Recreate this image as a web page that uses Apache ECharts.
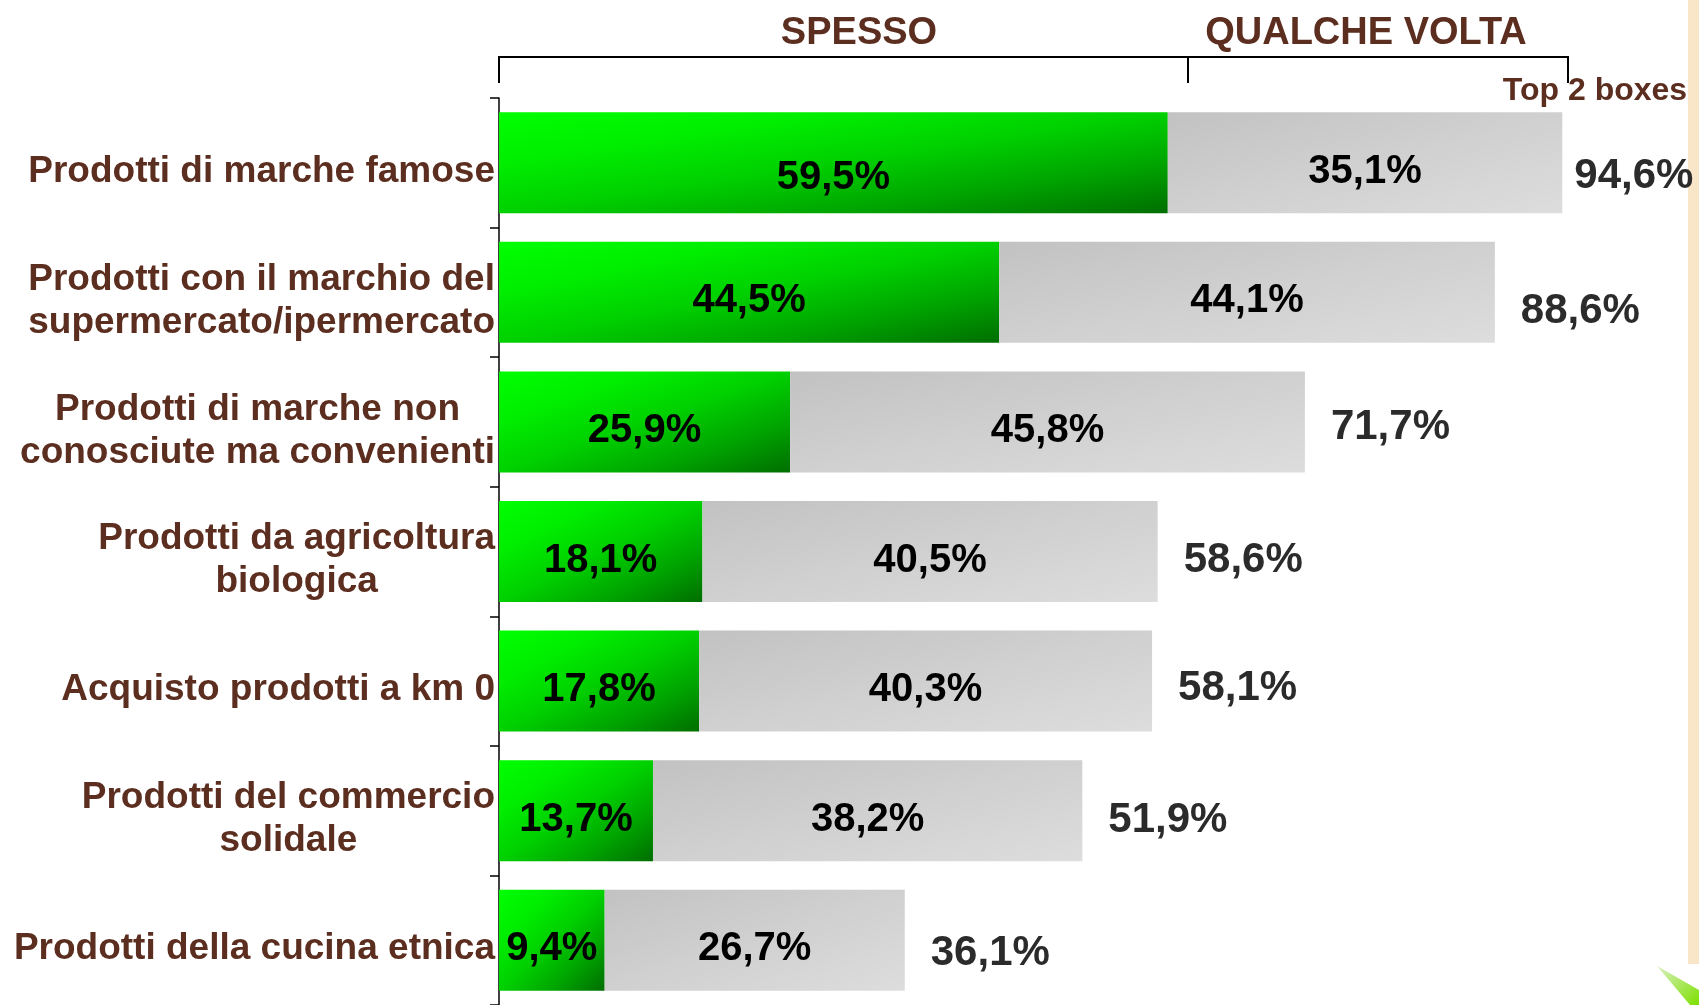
<!DOCTYPE html>
<html>
<head>
<meta charset="utf-8">
<script src="https://cdn.jsdelivr.net/npm/echarts@6.0.0/dist/echarts.min.js"></script>
<style>
  html, body { margin: 0; padding: 0; background: #ffffff; }
  #main { width: 1699px; height: 1005px; }
</style>
</head>
<body>
<div id="main"></div>
<script>
// categorie (dall'alto in basso)
const categories = [
  'Prodotti di marche famose',
  'Prodotti con il marchio del\nsupermercato/ipermercato',
  'Prodotti di marche non\nconosciute ma convenienti',
  'Prodotti da agricoltura\nbiologica',
  'Acquisto prodotti a km 0',
  'Prodotti del commercio\nsolidale',
  'Prodotti della cucina etnica'
];
const spesso = [59.5, 44.5, 25.9, 18.1, 17.8, 13.7, 9.4];
const qualcheVolta = [35.1, 44.1, 45.8, 40.5, 40.3, 38.2, 26.7];
const top2 = [94.6, 88.6, 71.7, 58.6, 58.1, 51.9, 36.1];

const brown = '#5B2E1F';
const font = '"Liberation Sans", Arial, sans-serif';
const barH = 101;

const greenStops = [
  { offset: 0, color: '#00FF00' },
  { offset: 0.25, color: '#00EE00' },
  { offset: 0.5, color: '#00D000' },
  { offset: 0.75, color: '#00A400' },
  { offset: 1, color: '#006E00' }
];
const greyStops = [
  { offset: 0, color: '#C2C2C2' },
  { offset: 0.5, color: '#D0D0D0' },
  { offset: 1, color: '#DDDDDD' }
];

// 59.5 -> "59,5%"
const pct = v => v.toFixed(1).replace('.', ',') + '%';

// gradiente diagonale "da angolo a angolo" (isolinee parallele all'antidiagonale)
function diagGrad(w, h, stops) {
  const d = w * w + h * h;
  return new echarts.graphic.LinearGradient(0, 0, 2 * h * h / d, 2 * w * w / d, stops);
}

// spostamenti verticali delle etichette come nell'originale
const topLabelDy = [14, 19, 5, 9, 7, 10, 13];

const chart = echarts.init(document.getElementById('main'));

const option = {
  backgroundColor: '#ffffff',
  animation: false,
  textStyle: { fontFamily: font },
  grid: {
    left: 499,
    width: 1124,
    top: 98,
    height: 910,
    containLabel: false
  },
  xAxis: {
    type: 'value',
    min: 0,
    max: 100,
    show: false
  },
  yAxis: {
    type: 'category',
    inverse: true,
    data: categories,
    axisLine: { show: true, lineStyle: { color: '#000', width: 1.5 } },
    axisTick: { show: true, length: 9, lineStyle: { color: '#000', width: 1.5 } },
    axisLabel: {
      margin: 4,
      align: 'right',
      padding: [18, 0, 0, 0],
      // ogni riga centrata nel blocco, blocco allineato a destra
      formatter: function (value) {
        return value.split('\n').map(l => '{c|' + l + '}').join('\n');
      },
      rich: {
        c: {
          align: 'center',
          fontFamily: font,
          fontSize: 37,
          fontWeight: 'bold',
          color: brown,
          lineHeight: 43
        }
      }
    }
  },
  series: [
    {
      name: 'SPESSO',
      type: 'bar',
      stack: 'tot',
      barWidth: barH,
      barGap: '-100%',
      data: spesso,
      itemStyle: { color: '#00C000' },
      label: {
        show: true,
        position: 'inside',
        offset: [0, 9],
        formatter: p => pct(p.value),
        fontFamily: font,
        fontSize: 40,
        fontWeight: 'bold',
        color: '#000'
      }
    },
    {
      name: 'QUALCHE VOLTA',
      type: 'bar',
      stack: 'tot',
      barWidth: barH,
      data: qualcheVolta,
      itemStyle: { color: '#D0D0D0' },
      label: {
        show: true,
        position: 'inside',
        offset: [0, 9],
        formatter: p => pct(p.value),
        fontFamily: font,
        fontSize: 40,
        fontWeight: 'bold',
        color: '#000'
      }
    },
    {
      // barra trasparente solo per l'etichetta "Top 2 boxes"
      name: 'Top 2 boxes',
      type: 'bar',
      barWidth: barH,
      barGap: '-100%',
      data: top2.map((v, i) => ({
        value: v,
        label: { offset: [0, topLabelDy[i]], distance: i === 0 ? 12 : 26 }
      })),
      itemStyle: { color: 'rgba(0,0,0,0)' },
      silent: true,
      label: {
        show: true,
        position: 'right',
        formatter: p => pct(p.value),
        fontFamily: font,
        fontSize: 42,
        fontWeight: 'bold',
        color: '#2B2B2B'
      }
    }
  ],
  graphic: [
    // intestazioni
    {
      type: 'text', x: 859, y: 34,
      style: {
        text: 'SPESSO', fontFamily: font, fontSize: 38, fontWeight: 'bold', fill: brown,
        align: 'center', verticalAlign: 'middle'
      }
    },
    {
      type: 'text', x: 1366, y: 34,
      style: {
        text: 'QUALCHE VOLTA', fontFamily: font, fontSize: 38, fontWeight: 'bold', fill: brown,
        align: 'center', verticalAlign: 'middle'
      }
    },
    {
      type: 'text', x: 1595, y: 91,
      style: {
        text: 'Top 2 boxes', fontFamily: font, fontSize: 32, fontWeight: 'bold', fill: brown,
        align: 'center', verticalAlign: 'middle'
      }
    },
    // parentesi sopra le barre
    {
      type: 'polyline',
      shape: { points: [[499, 83], [499, 57], [1568, 57], [1568, 83]] },
      style: { stroke: '#000', lineWidth: 2, fill: null }
    },
    {
      type: 'line',
      shape: { x1: 1188, y1: 57, x2: 1188, y2: 83 },
      style: { stroke: '#000', lineWidth: 2 }
    },
    // fascia decorativa a destra
    {
      type: 'rect',
      shape: { x: 1688, y: 0, width: 11, height: 964 },
      style: { fill: '#F9E5C8' }
    },
    {
      type: 'polygon',
      shape: { points: [[1657, 966], [1699, 990], [1699, 1005], [1690, 1005]] },
      style: {
        fill: new echarts.graphic.LinearGradient(0, 0, 1, 1, [
          { offset: 0, color: '#D8F0C0' },
          { offset: 1, color: '#7FE000' }
        ])
      }
    }
  ]
};

chart.setOption(option);

// seconda passata: gradiente per barra in base alla sua lunghezza in pixel
const px0 = chart.convertToPixel({ xAxisIndex: 0 }, 0);
const pxPerUnit = (chart.convertToPixel({ xAxisIndex: 0 }, 100) - px0) / 100;
chart.setOption({
  series: [
    {
      name: 'SPESSO',
      data: spesso.map((v, i) => ({
        value: v,
        itemStyle: { color: diagGrad(v * pxPerUnit, barH, greenStops) },
        label: i === 0 ? { offset: [0, 15] } : undefined
      }))
    },
    {
      name: 'QUALCHE VOLTA',
      data: qualcheVolta.map(v => ({
        value: v,
        itemStyle: { color: diagGrad(v * pxPerUnit, barH, greyStops) }
      }))
    }
  ]
});
</script>
</body>
</html>
